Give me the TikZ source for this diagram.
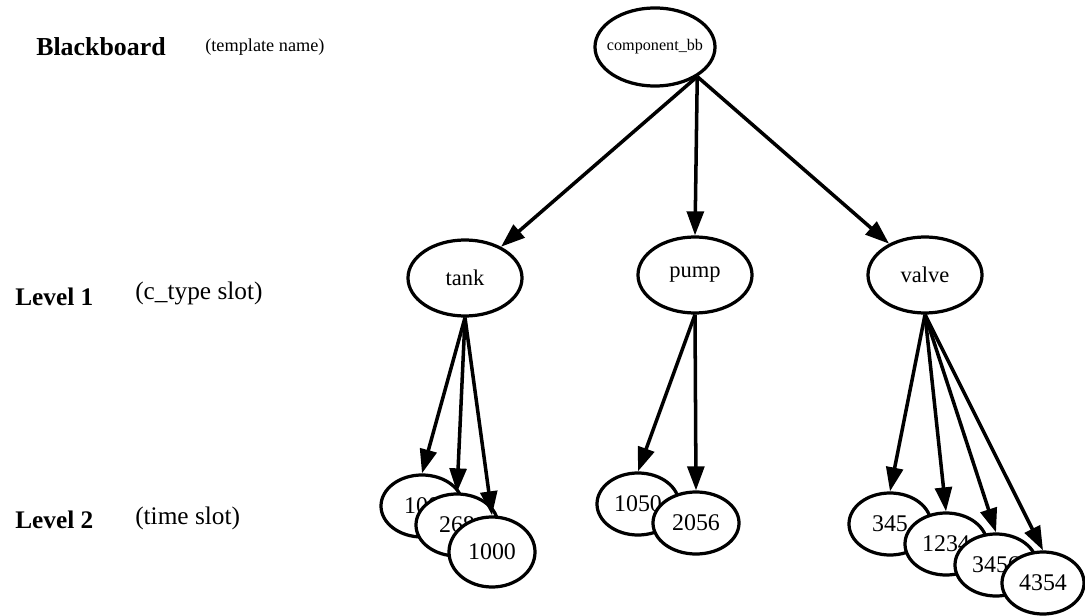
\documentclass[tikz,border=0pt]{standalone}
\usepackage{fontspec}
\setmainfont{Liberation Serif}
\usetikzlibrary{shapes.geometric,arrows.meta}

\tikzset{
  bub/.style={ellipse, draw, line width=2.3pt, fill=white, inner sep=0pt},
  top/.style={bub, minimum width=3.0cm, minimum height=1.95cm},
  mid/.style={bub, minimum width=2.85cm, minimum height=1.9cm, font=\fontsize{16}{18}\selectfont},
  leaf/.style={bub, minimum width=2.05cm, minimum height=1.55cm, font=\fontsize{17}{19}\selectfont},
  link/.style={line width=2.5pt, -{Triangle[length=0.6cm,width=0.42cm]}},
  rowhead/.style={anchor=west, inner sep=0pt, font=\bfseries\fontsize{18}{20}\selectfont},
  rownote/.style={anchor=west, inner sep=0pt, font=\fontsize{18}{20}\selectfont}
}

\begin{document}
\begin{tikzpicture}[x=0.025cm, y=-0.025cm]
  \useasboundingbox (0,0) rectangle (1085,616);

  % row captions
  \node[rowhead, font=\bfseries\fontsize{18.4}{21}\selectfont] (hbb) at (36,47) {Blackboard};
  \node[rownote, font=\fontsize{13}{15}\selectfont] (nbb) at (205,47) {(template name)};
  \node[rowhead] (h1) at (15,297) {Level 1};
  \node[rownote] (n1) at (135,293) {(c\_type slot)};
  \node[rowhead] (h2) at (15,520) {Level 2};
  \node[rownote] (n2) at (135,518) {(time slot)};

  % root and component types (root label kept from widening its ellipse)
  \node[top, font=\fontsize{11.5}{13}\selectfont] (bb) at (655,47) {\makebox[0pt]{component\_bb}};
  \coordinate (src) at (bb.-35);
  \node[mid] (tank)  at (465,278) {tank};
  \node[mid] (pump)  at (695,275) {pump};
  \node[mid] (valve) at (925,275) {valve};

  % time instances, each drawn over the previous one
  \node[leaf] (t100)  at (422,506) {100};
  \node[leaf] (t268)  at (457,525) {268};
  \node[leaf, minimum width=2.15cm, minimum height=1.75cm] (t1000) at (492,552) {1000};

  \node[leaf] (p1050) at (638,504) {1050};
  \node[leaf, minimum width=2.15cm] (p2056) at (696,523) {2056};

  \node[leaf] (v345)  at (890,524) {345};
  \node[leaf] (v1234) at (946,544) {1234};
  \node[leaf] (v3456) at (996,565) {3456};
  \node[leaf] (v4354) at (1043,583) {4354};

  % links
  \draw[link] (src) -- (tank);
  \draw[link] (src) -- (pump.north);
  \draw[link] (src) -- (valve);

  \draw[link] (tank.south) -- (t100.north);
  \draw[link] (tank.south) -- (t268.north);
  \draw[link] (tank.south) -- (t1000.north);

  \draw[link] (pump.south) -- (p1050.north);
  \draw[link] (pump.south) -- (p2056.north);

  \draw[link] (valve.south) -- (v345.north);
  \draw[link] (valve.south) -- (v1234.north);
  \draw[link] (valve.south) -- (v3456.north);
  \draw[link] (valve.south) -- (v4354.north);
\end{tikzpicture}
\end{document}
